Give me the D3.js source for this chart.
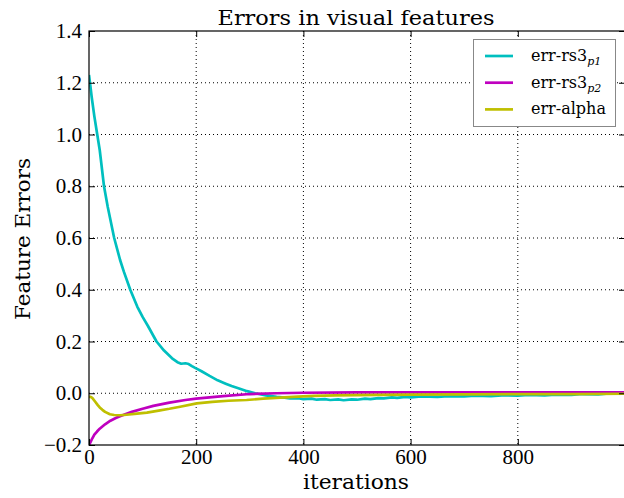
<!DOCTYPE html>
<html><head><meta charset="utf-8">
<script src="https://cdn.jsdelivr.net/npm/d3@7"></script>
<style>body{margin:0;background:#fff}svg{display:block}text{font-family:"DejaVu Serif",serif;fill:#000}</style>
</head><body><svg id="c" width="624" height="498"></svg>
<script>
const title = "Errors in visual features";
const xLabel = "iterations";
const yLabel = "Feature Errors";
const xTicks = [0, 200, 400, 600, 800];
const yTicks = [-0.2, 0.0, 0.2, 0.4, 0.6, 0.8, 1.0, 1.2, 1.4];
const seriesNames = ["err-rs3", "err-rs3", "err-alpha"];
const seriesSubs = ["p1", "p2", ""];
const seriesColors = ["#00bfbf", "#bf00bf", "#bfbf00"];

const rs3p1Iter = [0,3,5,10,15,20,28,35,47,58,65,77,90,100,110,126,140,155,165,172,180,186,192,198,210,225,240,255,266,280,295,310,330,350,365,375,390,400,415,425,440,450,465,475,490,500,515,525,540,550,565,575,590,600,620,650,670,700,720,750,770,800,820,850,870,900,920,950,970,985,999];
const rs3p1Val  = [1.23,1.18,1.145,1.07,1.005,0.94,0.80,0.72,0.60,0.515,0.47,0.40,0.335,0.295,0.26,0.20,0.165,0.135,0.12,0.114,0.116,0.113,0.105,0.098,0.085,0.067,0.05,0.037,0.028,0.018,0.008,0.0,-0.008,-0.014,-0.017,-0.020,-0.019,-0.023,-0.021,-0.025,-0.023,-0.026,-0.024,-0.027,-0.024,-0.025,-0.021,-0.023,-0.019,-0.020,-0.016,-0.018,-0.014,-0.016,-0.012,-0.014,-0.011,-0.012,-0.009,-0.011,-0.008,-0.009,-0.006,-0.008,-0.005,-0.006,-0.003,-0.004,-0.001,0.002,0.0];

const rs3p2Iter = [0,3,6,10,15,20,30,40,50,60,80,100,120,150,180,200,250,300,350,400,500,600,700,800,900,999];
const rs3p2Val  = [-0.2,-0.188,-0.175,-0.16,-0.148,-0.137,-0.12,-0.106,-0.096,-0.087,-0.072,-0.06,-0.049,-0.036,-0.026,-0.021,-0.011,-0.003,0.0,0.002,0.003,0.003,0.003,0.003,0.003,0.003];

const alphaIter = [0,3,6,8,12,16,20,25,30,39,47,58,70,85,108,130,150,170,201,230,260,294,325,357,390,419,460,500,543,600,700,800,900,999];
const alphaVal  = [-0.014,-0.014,-0.018,-0.023,-0.034,-0.045,-0.055,-0.064,-0.072,-0.081,-0.084,-0.085,-0.083,-0.08,-0.075,-0.067,-0.06,-0.052,-0.039,-0.033,-0.029,-0.026,-0.021,-0.017,-0.013,-0.010,-0.008,-0.007,-0.006,-0.005,-0.004,-0.003,-0.003,-0.002];

const seriesIters = [rs3p1Iter, rs3p2Iter, alphaIter];
const seriesVals = [rs3p1Val, rs3p2Val, alphaVal];

const svg = d3.select("#c");
const L = 89, R = 625, T = 31, B = 445;
const x = d3.scaleLinear().domain([0, 1000]).range([L, R]);
const y = d3.scaleLinear().domain([-0.2, 1.4]).range([B, T]);

// grid
const g = svg.append("g");
g.selectAll("line.gx").data(xTicks.filter(d => d > 0)).join("line")
  .attr("x1", d => x(d)).attr("x2", d => x(d)).attr("y1", T).attr("y2", B)
  .attr("stroke", "#000").attr("stroke-width", 1).attr("stroke-dasharray", "1,3");
g.selectAll("line.gy").data(yTicks.filter(d => d > -0.2 && d < 1.4)).join("line")
  .attr("x1", L).attr("x2", R).attr("y1", d => y(d)).attr("y2", d => y(d))
  .attr("stroke", "#000").attr("stroke-width", 1).attr("stroke-dasharray", "1,3");

// lines
svg.append("clipPath").attr("id", "pc").append("rect")
  .attr("x", L).attr("y", T).attr("width", R - L).attr("height", B - T);
const line = d3.line().x(d => x(d[0])).y(d => y(d[1]));
seriesVals.forEach((vals, i) => {
  const pts = vals.map((v, j) => [seriesIters[i][j], v]);
  svg.append("path").datum(pts).attr("d", line)
    .attr("fill", "none").attr("stroke", seriesColors[i]).attr("stroke-width", 2.7)
    .attr("stroke-linejoin", "round").attr("clip-path", "url(#pc)");
});

// axes (ticks inside, both sides)
const fmtY = d => d3.format(".1f")(d).replace("-", "\u2212");
const xAxB = d3.axisBottom(x).tickValues(xTicks).tickSizeInner(-6).tickSizeOuter(0).tickPadding(4).tickFormat(d3.format("d"));
const xAxT = d3.axisTop(x).tickValues(xTicks).tickSizeInner(-6).tickSizeOuter(0).tickFormat("");
const yAxL = d3.axisLeft(y).tickValues(yTicks).tickSizeInner(-6).tickSizeOuter(0).tickPadding(7).tickFormat(fmtY);
const yAxR = d3.axisRight(y).tickValues(yTicks).tickSizeInner(-6).tickSizeOuter(0).tickFormat("");
function style(sel, fs) {
  sel.select(".domain").remove();
  sel.selectAll("line").attr("stroke", "#000").attr("stroke-width", 1);
  sel.selectAll("text").style("font-size", fs + "px").style("font-family", '"Liberation Serif",serif').style("fill", "#000");
}
svg.append("g").attr("transform", `translate(0,${B})`).call(xAxB).call(s => style(s, 21));
svg.append("g").attr("transform", `translate(0,${T})`).call(xAxT).call(s => style(s, 21));
svg.append("g").attr("transform", `translate(${L},0)`).call(yAxL).call(s => style(s, 21));
svg.append("g").attr("transform", `translate(${R},0)`).call(yAxR).call(s => style(s, 21));

// frame
svg.append("rect").attr("x", L).attr("y", T).attr("width", R - L).attr("height", B - T)
  .attr("fill", "none").attr("stroke", "#000").attr("stroke-width", 1.2);

// labels
svg.append("text").attr("x", 356).attr("y", 25).attr("text-anchor", "middle")
  .attr("font-size", 21).attr("textLength", 277).attr("lengthAdjust", "spacingAndGlyphs").text(title);
svg.append("text").attr("x", 356).attr("y", 489).attr("text-anchor", "middle")
  .attr("font-size", 21).attr("textLength", 106).attr("lengthAdjust", "spacingAndGlyphs").text(xLabel);
svg.append("text").attr("transform", `translate(30,239) rotate(-90)`).attr("text-anchor", "middle")
  .attr("font-size", 21).attr("textLength", 162).attr("lengthAdjust", "spacingAndGlyphs").text(yLabel);

// legend
const lg = svg.append("g");
lg.append("rect").attr("x", 473.5).attr("y", 39.5).attr("width", 142).attr("height", 87)
  .attr("fill", "#fff").attr("stroke", "#888").attr("stroke-width", 1);
seriesNames.forEach((n, i) => {
  const yy = 56 + i * 26.7;
  lg.append("line").attr("x1", 485).attr("x2", 513).attr("y1", yy).attr("y2", yy)
    .attr("stroke", seriesColors[i]).attr("stroke-width", 2.7);
  const t = lg.append("text").attr("x", 531).attr("y", yy + 5).attr("font-size", 16);
  t.append("tspan").text(n);
  if (seriesSubs[i]) t.append("tspan").attr("font-size", 11).attr("font-style", "italic").attr("dy", 4).text(seriesSubs[i]);
});
</script></body></html>
